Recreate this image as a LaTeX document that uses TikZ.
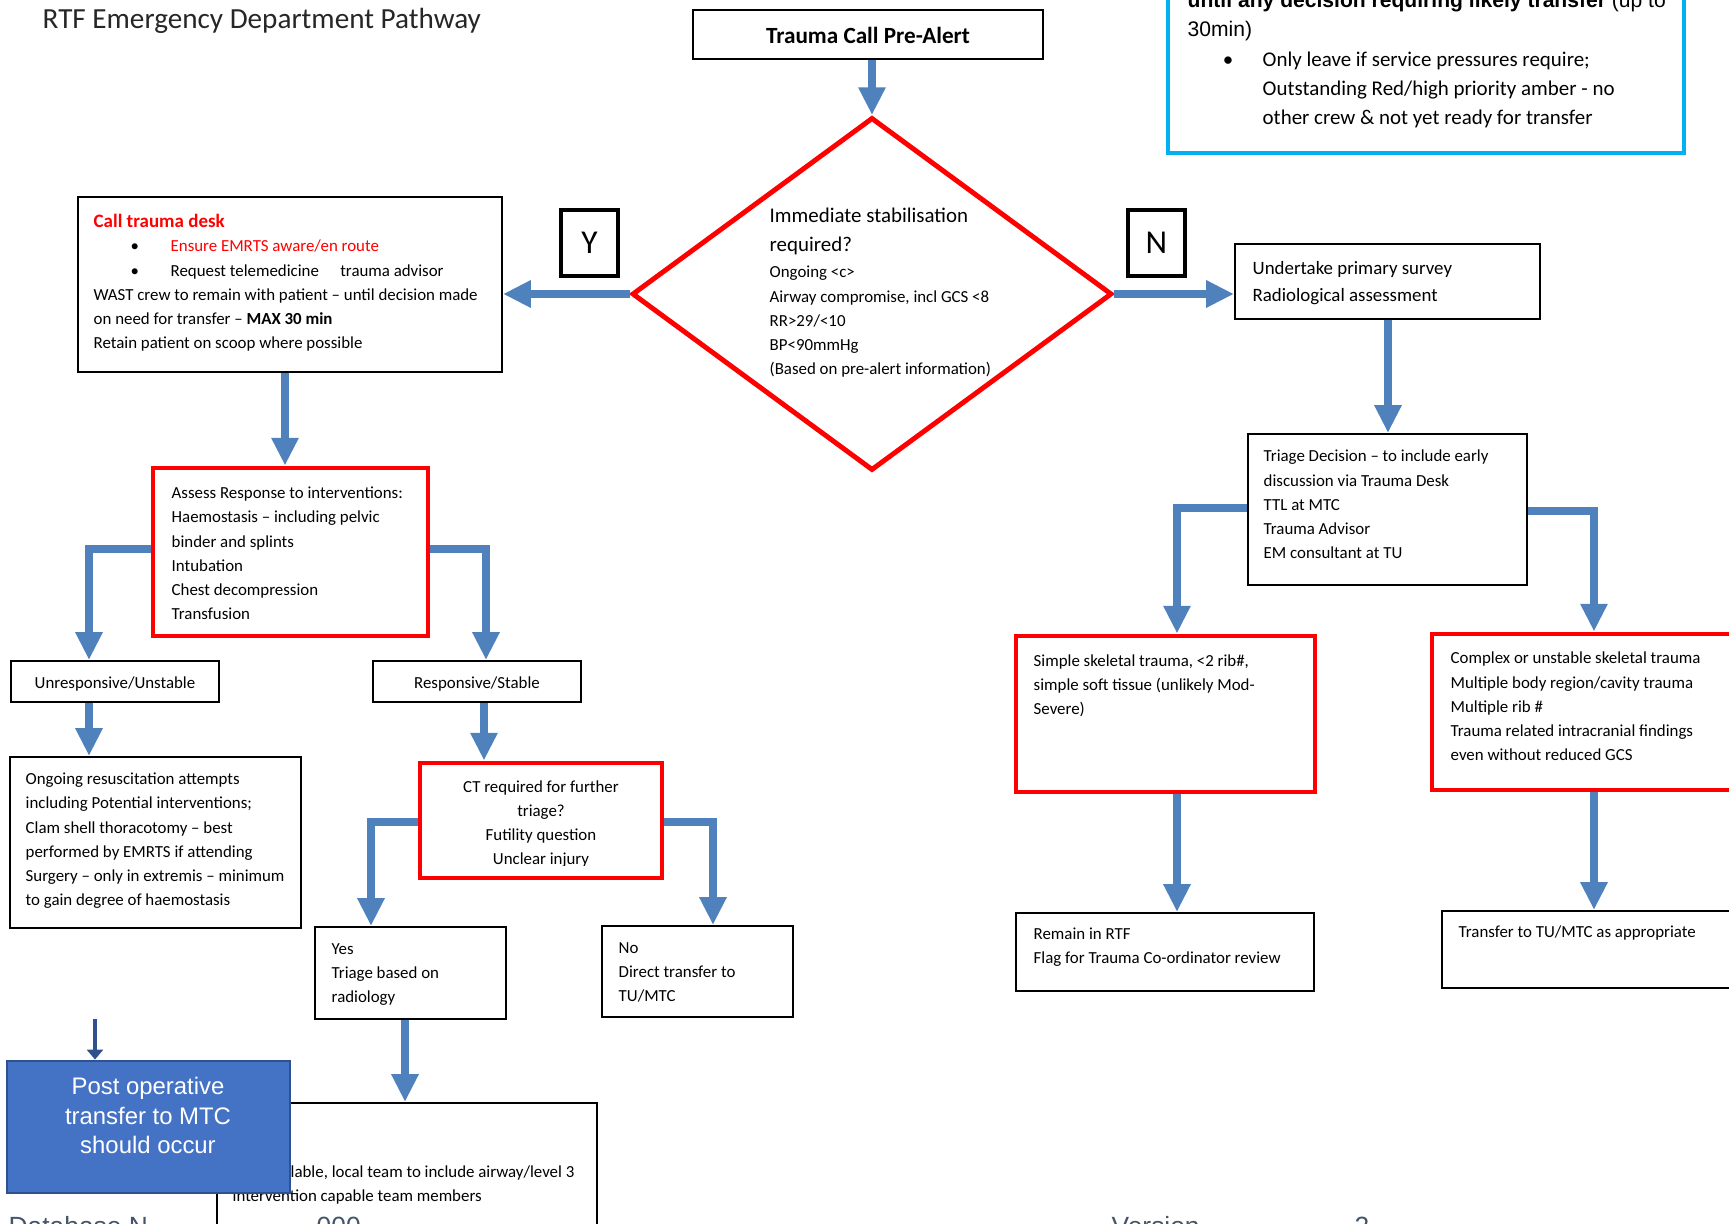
\documentclass[tikz,border=0pt]{standalone}
\usepackage{fontspec}
\setmainfont{Carlito}
\newfontfamily\arialfont{Liberation Sans}
\usepackage{xcolor}
\usetikzlibrary{arrows.meta, shapes.geometric, fit}

\definecolor{flowblue}{HTML}{4F81BD}
\definecolor{postblue}{HTML}{4472C4}
\definecolor{postedge}{HTML}{2F528F}
\definecolor{cyanedge}{HTML}{00B0F0}
\definecolor{footgrey}{HTML}{44546A}

\newcommand{\boxfont}{\fontsize{4.8}{6.91}\selectfont}
\newcommand{\listbullet}{\makebox[21.9pt][l]{\hspace*{10.5pt}\textbullet}}

\begin{document}
\begin{tikzpicture}[x=0.1mm, y=-0.1mm,
		box/.style={draw=black, line width=0.6pt, inner sep=0pt},
		redbox/.style={draw=red, line width=1.4pt, inner sep=0pt},
		ynbox/.style={draw=black, line width=1.1pt, inner sep=0pt},
		txt/.style={anchor=base west, align=left, inner sep=0pt, font=\boxfont},
		ctxt/.style={anchor=base, align=center, inner sep=0pt, font=\boxfont},
		foot/.style={anchor=base west, inner sep=0pt, text=footgrey, font=\arialfont\fontsize{7.5}{9}\selectfont},
		flow/.style={draw=flowblue, line width=2.3pt, -{Triangle[width=7.3pt,length=7.9pt]}}
	]
			\useasboundingbox (0,0) rectangle (1729,1224);
			\clip (0,0) rectangle (1729,1224);

			\node[anchor=base west, inner sep=0pt, text=black!85, font=\fontsize{8.3}{10}\selectfont] (title) at (42,29) {RTF Emergency Department Pathway};

			\node[box, line width=0.8pt, fit={(693,10) (1043,59)}] (alert) {};
			\node[anchor=base, inner sep=0pt, font=\fontsize{6.6}{8}\selectfont\bfseries] (alerttxt) at (868,44) {Trauma Call Pre-Alert};

			\node[draw=cyanedge, line width=1.4pt, inner sep=0pt, fit={(1168,-40) (1684,153)}] (keep) {};
			\node[anchor=base west, inner sep=0pt, font=\arialfont\fontsize{6}{7}\selectfont] (keeptop) at (1187,8) {\textbf{until any decision requiring likely transfer} (up to};
			\node[anchor=base west, inner sep=0pt, font=\arialfont\fontsize{6}{7}\selectfont] (keepmin) at (1187,37) {30min)};
			\node[anchor=base, inner sep=0pt, font=\fontsize{5.96}{8.3}\selectfont] (keepdot) at (1228,67) {\textbullet};
			\node[txt, font=\fontsize{5.96}{8.3}\selectfont] (keeplist) at (1262,125) {Only leave if service pressures require;\\Outstanding Red/high priority amber - no\\other crew \& not yet ready for transfer};

			\node[draw=red, line width=1.4pt, diamond, minimum width=48mm, minimum height=35.3mm, inner sep=0pt] (stab) at (872,294) {};
			\node[anchor=base west, align=left, inner sep=0pt, font=\fontsize{5.95}{8.25}\selectfont] (stabhead) at (769,252) {Immediate stabilisation\\required?};
			\node[txt] (stablist) at (769,375) {Ongoing <c>\\Airway compromise, incl GCS <8\\RR>29/<10\\BP<90mmHg\\(Based on pre-alert information)};

			\node[ynbox, fit={(561,210) (618,276)}] (ybox) {};
			\node[inner sep=0pt, font=\fontsize{9.5}{11}\selectfont] (ylab) at (ybox.center) {Y};
			\node[ynbox, fit={(1128,210) (1185,276)}] (nbox) {};
			\node[inner sep=0pt, font=\fontsize{9.5}{11}\selectfont] (nlab) at (nbox.center) {N};

			\node[box, fit={(78,197) (502,372)}] (call) {};
			\node[txt] (calltxt) at (93,349) {{\fontsize{5.4}{6.91}\selectfont\bfseries\color{red}Call trauma desk}\\
				\listbullet{\color{red}Ensure EMRTS aware/en route}\\
				\listbullet Request telemedicine\hspace{5pt} trauma advisor\\
				WAST crew to remain with patient -- until decision made\\
				on need for transfer -- \textbf{MAX 30 min}\\
				Retain patient on scoop where possible};

			\node[redbox, fit={(153,468) (428,636)}] (assess) {};
			\node[txt] (assesstxt) at (171,620) {Assess Response to interventions:\\Haemostasis -- including pelvic\\binder and splints\\Intubation\\Chest decompression\\Transfusion};

			\node[box, fit={(11,661) (219,702)}] (unresp) {};
			\node[ctxt] (unresptxt) at (115,689) {Unresponsive/Unstable};
			\node[box, fit={(373,661) (581,702)}] (resp) {};
			\node[ctxt] (resptxt) at (477,689) {Responsive/Stable};

			\node[box, fit={(10,757) (301,928)}] (ongoing) {};
			\node[txt] (ongoingtxt) at (25,906) {Ongoing resuscitation attempts\\including Potential interventions;\\Clam shell thoracotomy -- best\\performed by EMRTS if attending\\Surgery -- only in extremis -- minimum\\to gain degree of haemostasis};

			\node[redbox, fit={(420,763) (662,878)}] (ct) {};
			\begin{scope}
				\clip (420,763) rectangle (662,866);
				\node[ctxt] (cttxt) at (541,865) {CT required for further\\triage?\\Futility question\\Unclear injury};
			\end{scope}

			\node[box, fit={(315,927) (506,1019)}] (yes) {};
			\node[txt] (yestxt) at (331,1003) {Yes\\Triage based on\\radiology};
			\node[box, fit={(602,926) (793,1017)}] (no) {};
			\node[txt] (notxt) at (618,1002) {No\\Direct transfer to\\TU/MTC};

			\node[box, fit={(217,1103) (597,1260)}] (local) {};
			\node[txt] (localtxt) at (232,1202) {\hspace*{16.5pt}lable, local team to include airway/level 3\\intervention capable team members};

			\node[foot] (dbname) at (8,1236) {Database N};
			\node[foot] (dbnum) at (316,1236) {000};
			\node[foot] (vername) at (1111,1236) {Version};
			\node[foot] (vernum) at (1354,1236) {2};

			\node[draw=postedge, fill=postblue, line width=0.8pt, inner sep=0pt, fit={(7,1061) (290,1193)}] (post) {};
			\node[anchor=base, align=center, inner sep=0pt, text=white, font=\arialfont\fontsize{6.8}{8.4}\selectfont] (posttxt) at (148,1154) {Post operative\\transfer to MTC\\should occur};

			\node[box, fit={(1235,244) (1540,319)}] (undertake) {};
			\node[txt, font=\fontsize{5.37}{7.7}\selectfont] (undertaketxt) at (1252,302) {Undertake primary survey\\Radiological assessment};

			\node[box, fit={(1248,434) (1527,585)}] (triage) {};
			\node[txt] (triagetxt) at (1263,559) {Triage Decision -- to include early\\discussion via Trauma Desk\\TTL at MTC\\Trauma Advisor\\EM consultant at TU};

			\node[redbox, fit={(1016,636) (1315,792)}] (simple) {};
			\node[txt] (simpletxt) at (1033,715) {Simple skeletal trauma, <2 rib\#,\\simple soft tissue (unlikely Mod-\\Severe)};
			\node[redbox, fit={(1432,634) (1745,790)}] (complex) {};
			\node[txt] (complextxt) at (1450,761) {Complex or unstable skeletal trauma\\Multiple body region/cavity trauma\\Multiple rib \#\\Trauma related intracranial findings\\even without reduced GCS};

			\node[box, fit={(1016,913) (1314,991)}] (remain) {};
			\node[txt] (remaintxt) at (1033,964) {Remain in RTF\\Flag for Trauma Co-ordinator review};
			\node[box, fit={(1442,911) (1745,988)}] (transfer) {};
			\node[txt] (transfertxt) at (1458,938) {Transfer to TU/MTC as appropriate};

			\draw[flow] (alert.south -| 872,0) -- (stab.north);
			\draw[flow] (stab.west) -- (stab.west -| call.east);
			\draw[flow] (stab.east) -- (stab.east -| undertake.west);
			\draw[flow] (call.south -| 285,0) -- (assess.north -| 285,0);
			\draw[flow] (assess.west |- 0,549) -| (unresp.north -| 89,0);
			\draw[flow] (assess.east |- 0,549) -| (resp.north -| 486,0);
			\draw[flow] (unresp.south -| 89,0) -- (ongoing.north -| 89,0);
			\draw[flow] (resp.south -| 484,0) -- (ct.north -| 484,0);
			\draw[flow] (ct.west |- 0,822) -| (yes.north -| 371,0);
			\draw[flow] (ct.east |- 0,822) -| (no.north -| 713,0);
			\draw[flow] (yes.south -| 405,0) -- (local.north -| 405,0);
			\draw[flow] (undertake.south -| 1388,0) -- (triage.north -| 1388,0);
			\draw[flow] (triage.west |- 0,508) -| (simple.north -| 1177,0);
			\draw[flow] (triage.east |- 0,511) -| (complex.north -| 1594,0);
			\draw[flow] (simple.south -| 1177,0) -- (remain.north -| 1177,0);
			\draw[flow] (complex.south -| 1594,0) -- (transfer.north -| 1594,0);
			\coordinate (postfrom) at (95,1019);
			\draw[draw=postedge, line width=1.1pt, -{Triangle[width=4.5pt,length=2.8pt]}] (postfrom) -- (post.north -| postfrom);
		\end{tikzpicture}
\end{document}
